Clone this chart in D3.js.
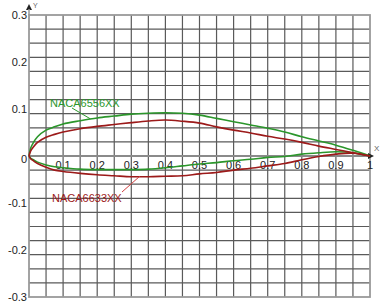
<!DOCTYPE html>
<html>
<head>
<meta charset="utf-8">
<script src="https://cdnjs.cloudflare.com/ajax/libs/d3/7.8.5/d3.min.js"></script>
<style>
  body { margin: 0; background: #fff; }
  text { font-family: "Liberation Sans", Arial, sans-serif; }
</style>
</head>
<body>
<div id="chart"></div>
<script>
// chord stations
var xs = [0, 0.005, 0.0125, 0.025, 0.05, 0.075, 0.1, 0.15, 0.2, 0.25, 0.3, 0.35, 0.4, 0.45,
          0.5, 0.55, 0.6, 0.65, 0.7, 0.75, 0.8, 0.85, 0.9, 0.95, 1];

// NACA6556XX
var upper6556 = [0, 0.017, 0.028, 0.041, 0.055, 0.062, 0.068, 0.075, 0.081, 0.085, 0.089, 0.091, 0.092, 0.091,
                 0.087, 0.080, 0.073, 0.066, 0.059, 0.051, 0.041, 0.032, 0.023, 0.012, 0];
var lower6556 = [0, -0.005, -0.008, -0.013, -0.019, -0.023, -0.025, -0.028, -0.029, -0.029, -0.029, -0.028, -0.025, -0.021,
                 -0.017, -0.014, -0.010, -0.007, -0.003, -0.001, 0.004, 0.007, 0.009, 0.007, 0];

// NACA6633XX
var upper6633 = [0, 0.011, 0.019, 0.029, 0.040, 0.046, 0.051, 0.058, 0.063, 0.067, 0.071, 0.0745, 0.0765, 0.074,
                 0.070, 0.062, 0.055, 0.049, 0.042, 0.036, 0.029, 0.021, 0.014, 0.007, 0];
var lower6633 = [0, -0.006, -0.010, -0.016, -0.024, -0.030, -0.033, -0.037, -0.040, -0.042, -0.044, -0.044, -0.043, -0.042,
                 -0.038, -0.035, -0.030, -0.026, -0.021, -0.016, -0.008, -0.001, 0.004, 0.006, 0];

var xTicks = [0.1, 0.2, 0.3, 0.4, 0.5, 0.6, 0.7, 0.8, 0.9, 1];
var yTicks = [0.3, 0.2, 0.1, 0, -0.1, -0.2, -0.3];

var width = 386, height = 308;
var svg = d3.select("#chart").append("svg")
    .attr("width", width)
    .attr("height", height);

var x = d3.scaleLinear().domain([0, 1]).range([29, 370]);
var y = d3.scaleLinear().domain([-0.3, 0.3]).range([297, 15]);

// grid: 20 x 20 cells (0.05 in x, 0.03 in y)
var grid = svg.append("g");
grid.selectAll(".vl")
    .data(d3.range(1, 20))
    .enter().append("line")
    .attr("x1", function(i) { return x(i * 0.05); })
    .attr("x2", function(i) { return x(i * 0.05); })
    .attr("y1", y(0.3))
    .attr("y2", y(-0.3))
    .attr("stroke", "#5a5a5a")
    .attr("stroke-width", 1.2);
grid.selectAll(".hl")
    .data(d3.range(1, 20))
    .enter().append("line")
    .attr("x1", x(0))
    .attr("x2", x(1))
    .attr("y1", function(i) { return y(-0.3 + i * 0.03); })
    .attr("y2", function(i) { return y(-0.3 + i * 0.03); })
    .attr("stroke", function(i) { return i === 10 ? "#8a8a8a" : "#5a5a5a"; })
    .attr("stroke-width", function(i) { return i === 10 ? 1.8 : 1.2; });

// outer frame
svg.append("rect")
    .attr("x", x(0))
    .attr("y", y(0.3))
    .attr("width", x(1) - x(0))
    .attr("height", y(-0.3) - y(0.3))
    .attr("fill", "none")
    .attr("stroke", "#9a9a9a")
    .attr("stroke-width", 1.8);

// axis arrows
svg.append("path")
    .attr("d", "M" + x(0) + "," + (y(0.3) - 11) + "l-3,6h6z")
    .attr("fill", "#222");
svg.append("line")
    .attr("x1", x(0)).attr("x2", x(0))
    .attr("y1", y(0.3) - 6).attr("y2", y(0.3))
    .attr("stroke", "#9a9a9a").attr("stroke-width", 1.5);
svg.append("text")
    .attr("x", x(0) + 4)
    .attr("y", y(0.3) - 7)
    .style("font-size", "7px")
    .attr("fill", "#666")
    .text("Y");
svg.append("path")
    .attr("d", "M" + (x(1) + 4) + "," + y(0) + "l-6,-3v6z")
    .attr("fill", "#222");
svg.append("text")
    .attr("x", x(1) + 4)
    .attr("y", y(0) - 5)
    .style("font-size", "8px")
    .attr("fill", "#666")
    .text("X");

// tick labels
svg.selectAll(".xt")
    .data(xTicks)
    .enter().append("text")
    .attr("x", function(d) { return x(d); })
    .attr("y", y(0) + 13)
    .attr("text-anchor", "middle")
    .style("font-size", "11px")
    .attr("fill", "#222")
    .text(function(d) { return d; });
svg.selectAll(".yt")
    .data(yTicks)
    .enter().append("text")
    .attr("x", x(0) - 2)
    .attr("y", function(d) { return y(d) + (d === 0 ? 7 : 4); })
    .attr("text-anchor", "end")
    .style("font-size", "11px")
    .attr("fill", "#222")
    .text(function(d) { return d; });

// airfoil outlines
var line = d3.line()
    .x(function(d) { return x(d[0]); })
    .y(function(d) { return y(d[1]); })
    .curve(d3.curveCatmullRom.alpha(0.5));

var foils = [
  { name: "NACA6556XX", color: "#2b962b", upper: upper6556, lower: lower6556 },
  { name: "NACA6633XX", color: "#9c1a1a", upper: upper6633, lower: lower6633 }
];

foils.forEach(function(f) {
  [f.upper, f.lower].forEach(function(ys) {
    svg.append("path")
        .datum(xs.map(function(v, i) { return [v, ys[i]]; }))
        .attr("d", line)
        .attr("fill", "none")
        .attr("stroke", f.color)
        .attr("stroke-width", 1.6);
  });
});

// callout labels
svg.append("line")
    .attr("x1", 72).attr("y1", 108).attr("x2", x(0.18)).attr("y2", y(0.079))
    .attr("stroke", "#2b962b").attr("stroke-width", 1);
svg.append("text")
    .attr("x", 50).attr("y", 107)
    .style("font-size", "11px")
    .attr("fill", "#2b962b")
    .text("NACA6556XX");

svg.append("line")
    .attr("x1", 122).attr("y1", 192).attr("x2", x(0.325)).attr("y2", y(-0.043))
    .attr("stroke", "#d04040").attr("stroke-width", 1);
svg.append("text")
    .attr("x", 52).attr("y", 202)
    .style("font-size", "11px")
    .attr("fill", "#9c1a1a")
    .text("NACA6633XX");
</script>
</body>
</html>
